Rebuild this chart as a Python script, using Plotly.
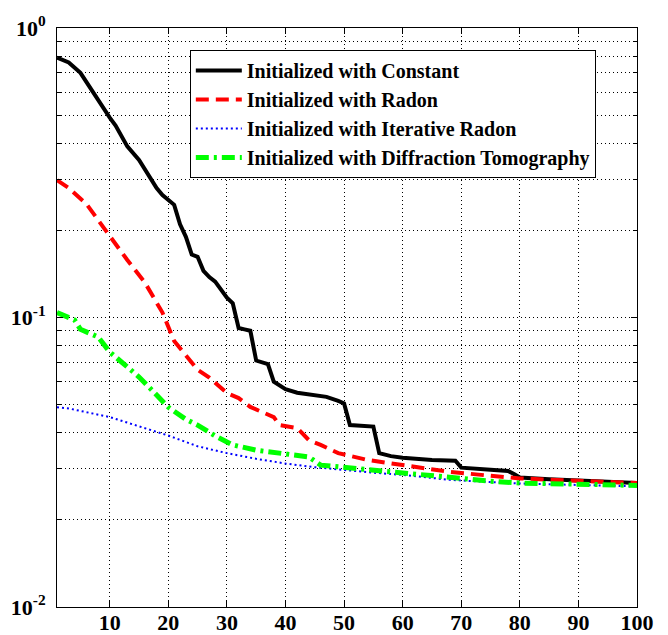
import plotly.graph_objects as go

# Data
const_x = [1, 3, 5, 6, 8, 10, 11, 13, 15, 17, 18, 19, 20, 21, 22, 23, 24, 25, 26, 27, 28, 29, 30, 31,
           32, 33, 34, 35, 36, 37, 38, 39, 40, 42, 45, 47, 49, 50, 51, 55, 56, 58, 60, 65, 69, 70,
           75, 78, 79, 80, 85, 90, 95, 100]
const_y = [0.79, 0.76, 0.70, 0.65, 0.56, 0.49, 0.46, 0.39, 0.35, 0.30, 0.28, 0.265, 0.255, 0.245,
           0.21, 0.19, 0.165, 0.162, 0.145, 0.138, 0.133, 0.125, 0.117, 0.112,
           0.092, 0.091, 0.090, 0.071, 0.070, 0.069, 0.060, 0.058, 0.0565, 0.0550, 0.0540, 0.0532,
           0.0515, 0.0505, 0.0425, 0.0420, 0.0340, 0.0332, 0.0328, 0.0322, 0.0320, 0.0303,
           0.0298, 0.0295, 0.0288, 0.0280, 0.0276, 0.0273, 0.0271, 0.0268]

radon_x = [1, 3, 6, 8, 10, 13, 16, 19, 21, 23, 25, 27, 30, 32, 34, 38, 39, 42, 44, 46, 49, 54, 60,
           68, 75, 80, 90, 100]
radon_y = [0.298, 0.28, 0.247, 0.217, 0.192, 0.158, 0.132, 0.104, 0.083, 0.074, 0.066, 0.062,
           0.0548, 0.0527, 0.0491, 0.0453, 0.0425, 0.0415, 0.0377, 0.0363, 0.0340, 0.0322, 0.0309,
           0.0293, 0.0284, 0.0278, 0.0273, 0.0268]

iter_x = [1, 3, 10, 15, 20, 25, 30, 35, 40, 45, 50, 55, 60, 68, 75, 80, 90, 100]
iter_y = [0.049, 0.0485, 0.0453, 0.042, 0.0391, 0.0359, 0.0340, 0.0325, 0.0313, 0.0304, 0.0297,
          0.0291, 0.0286, 0.0275, 0.0270, 0.0267, 0.0264, 0.0261]

diff_x = [1, 4, 5, 8, 10, 13, 15, 18, 20, 23, 25, 28, 31, 35, 40, 44, 46, 51, 55, 60, 68, 75, 80,
          90, 100]
diff_y = [0.104, 0.098, 0.091, 0.0857, 0.076, 0.067, 0.0623, 0.054, 0.049, 0.0445, 0.0425, 0.039,
          0.0363, 0.0348, 0.0337, 0.0330, 0.0309, 0.0302, 0.0296, 0.0290, 0.0279, 0.0272, 0.0268,
          0.0265, 0.0263]

names = ["Initialized with Constant", "Initialized with Radon",
         "Initialized with Iterative Radon", "Initialized with Diffraction Tomography"]

y_tickvals = [0.01, 0.1, 1]
y_ticktext = ["10<sup>-2</sup>", "10<sup>-1</sup>", "10<sup>0</sup>"]
y_minorvals = [k * 10 ** e for e in (-2, -1) for k in range(2, 10)]
x_tickvals = [10, 20, 30, 40, 50, 60, 70, 80, 90, 100]

FONT = '"Liberation Serif", "Times New Roman", Times, serif'

fig = go.Figure()
fig.add_trace(go.Scatter(x=const_x, y=const_y, mode="lines", name=names[0],
                         line=dict(color="black", width=4)))
fig.add_trace(go.Scatter(x=radon_x, y=radon_y, mode="lines", name=names[1],
                         line=dict(color="#ff0000", width=4, dash="13px,7px")))
fig.add_trace(go.Scatter(x=iter_x, y=iter_y, mode="lines", name=names[2],
                         line=dict(color="#0000ff", width=2, dash="2px,3px")))
fig.add_trace(go.Scatter(x=diff_x, y=diff_y, mode="lines", name=names[3],
                         line=dict(color="#00ff00", width=5, dash="13px,5px,3px,5px")))

axis_common = dict(showline=True, linecolor="black", linewidth=1, mirror="ticks",
                   ticks="inside", tickcolor="black", ticklen=6,
                   showgrid=True, gridcolor="black", gridwidth=1, griddash="1px,3px",
                   zeroline=False,
                   tickfont=dict(family=FONT, size=22, color="black", weight="bold"))

fig.update_xaxes(range=[1, 100], tickmode="array", tickvals=x_tickvals,
                 ticktext=[str(v) for v in x_tickvals], ticklabelstandoff=-4, **axis_common)
fig.update_yaxes(type="log", range=[-2, 0], tickmode="array", tickvals=y_tickvals,
                 ticktext=y_ticktext, ticklabelstandoff=6,
                 minor=dict(tickmode="array", tickvals=y_minorvals, ticks="inside", ticklen=4,
                            tickcolor="black", showgrid=True, gridcolor="black",
                            griddash="1px,3px", gridwidth=1),
                 **axis_common)

fig.update_layout(
    width=668, height=635,
    margin=dict(l=57, r=31, t=28, b=28, autoexpand=False),
    paper_bgcolor="white", plot_bgcolor="white",
    font=dict(family=FONT, color="black"),
    legend=dict(x=0.229, y=0.962, xanchor="left", yanchor="top",
                bgcolor="white", bordercolor="black", borderwidth=1,
                font=dict(family=FONT, size=20, color="black", weight="bold"),
                itemwidth=46, tracegroupgap=0),
    showlegend=True,
)

fig.write_html("out.html")
